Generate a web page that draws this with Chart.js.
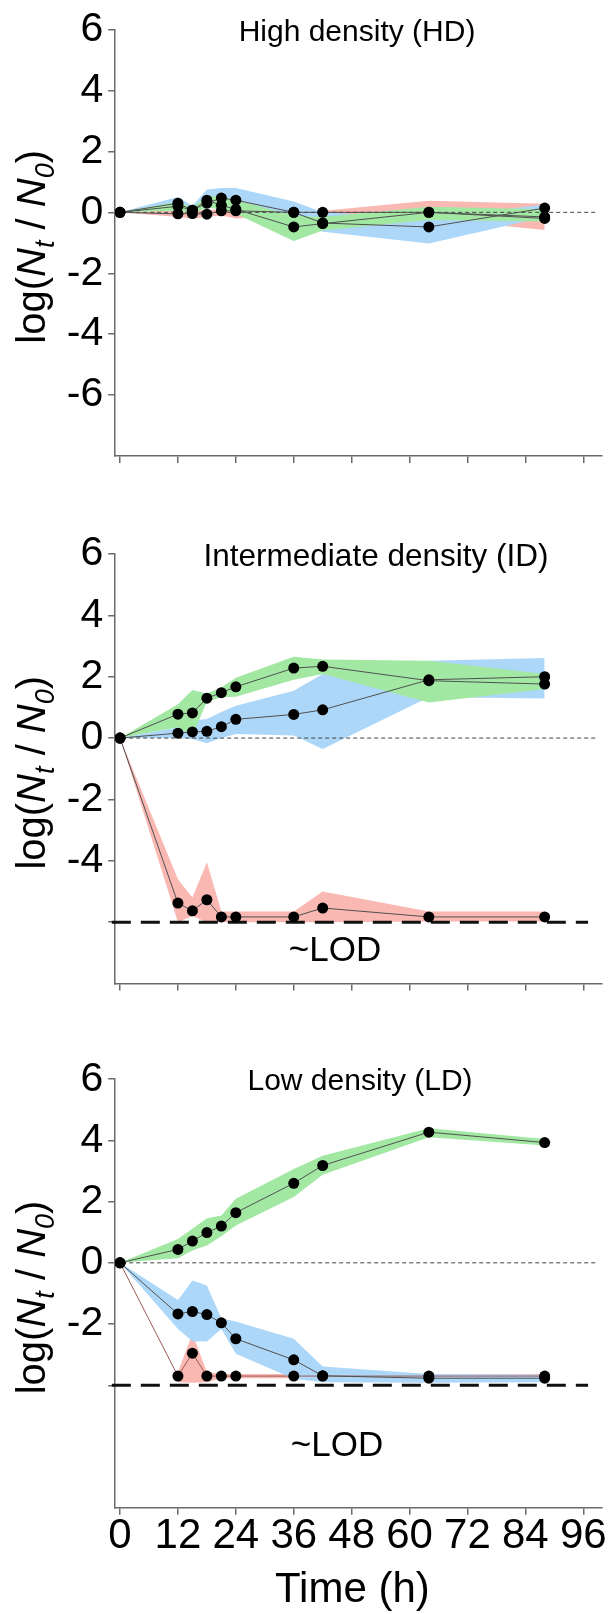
<!DOCTYPE html>
<html>
<head>
<meta charset="utf-8">
<script src="https://cdn.jsdelivr.net/npm/chart.js@4.4.1/dist/chart.umd.min.js"></script>
<style>
  html, body { margin: 0; padding: 0; background: #fff; }
  body { width: 608px; height: 1614px; position: relative; overflow: hidden; }
  canvas { position: absolute; left: 0; }
</style>
</head>
<body>
<canvas id="hd" width="608" height="500" style="top:0"></canvas>
<canvas id="id" width="608" height="520" style="top:500px"></canvas>
<canvas id="ld" width="608" height="594" style="top:1020px"></canvas>
<script>
// sampling times (h)
const hours = [0, 12, 15, 18, 21, 24, 36, 42, 64, 88];
const xTicks = [0, 12, 24, 36, 48, 60, 72, 84, 96];
const xTickLabels = ['0', '12', '24', '36', '48', '60', '72', '84', '96'];
const panelTitles = ['High density (HD)', 'Intermediate density (ID)', 'Low density (LD)'];
const lodLabel = '~LOD';
const xTitle = 'Time (h)';

// high density
const hdRedMean   = [0, -0.05, -0.04, -0.06, 0.05, 0.05, 0.0, 0.0, 0.0, -0.2];
const hdRedLow    = [0, -0.15, -0.2, -0.15, -0.1, -0.2, -0.1, -0.15, -0.2, -0.58];
const hdRedHigh   = [0, 0.07, 0.05, 0.08, 0.1, 0.1, 0.1, 0.05, 0.38, 0.28];
const hdBlueMean  = [0, 0.3, 0.07, 0.3, 0.47, 0.4, 0.0, -0.35, -0.48, 0.14];
const hdBlueLow   = [0, 0.08, 0.0, 0.15, 0.2, 0.1, -0.3, -0.64, -1.02, -0.15];
const hdBlueHigh  = [0, 0.5, 0.22, 0.75, 0.8, 0.8, 0.36, 0.0, -0.2, 0.26];
const hdGreenMean = [0, 0.2, 0.07, 0.4, 0.23, 0.1, -0.48, -0.37, 0.0, -0.15];
const hdGreenLow  = [0, 0.05, -0.05, 0.15, 0.1, -0.05, -0.94, -0.6, -0.25, -0.3];
const hdGreenHigh = [0, 0.35, 0.15, 0.55, 0.5, 0.4, -0.1, -0.15, 0.18, 0.1];

// intermediate density
const idRedMean   = [0, -5.38, -5.63, -5.27, -5.83, -5.83, -5.83, -5.54, -5.83, -5.83];
const idRedLow    = [0, -6, -5.8, -6, -6, -6, -6, -6, -5.98, -5.98];
const idRedHigh   = [0, -4.6, -5.2, -4.05, -5.65, -5.65, -5.65, -5.0, -5.65, -5.65];
const idBlueMean  = [0, 0.16, 0.2, 0.22, 0.37, 0.61, 0.77, 0.92, 1.9, 2.0];
const idBlueLow   = [0, 0.0, -0.03, -0.17, 0.0, 0.13, 0.08, -0.36, 1.33, 1.29];
const idBlueHigh  = [0, 0.35, 0.57, 0.62, 0.85, 1.05, 1.54, 2.09, 2.52, 2.61];
const idGreenMean = [0, 0.78, 0.82, 1.3, 1.48, 1.67, 2.28, 2.34, 1.87, 1.76];
const idGreenLow  = [0, 0.35, 0.08, 1.18, 1.33, 1.35, 1.9, 2.09, 1.16, 1.6];
const idGreenHigh = [0, 1.1, 1.57, 1.45, 1.65, 1.97, 2.65, 2.56, 2.52, 2.09];

// low density
const ldRedMean   = [0, -3.7, -2.95, -3.7, -3.7, -3.7, -3.7, -3.7, -3.7, -3.7];
const ldRedLow    = [null, -3.9, -3.92, -3.9, -3.77, -3.77, -3.77, -3.77, -3.77, -3.77];
const ldRedHigh   = [null, -3.57, -2.32, -3.57, -3.63, -3.63, -3.63, -3.63, -3.63, -3.63];
const ldBlueMean  = [0, -1.67, -1.59, -1.69, -1.96, -2.48, -3.17, -3.69, -3.77, -3.77];
const ldBlueLow   = [0, -2.16, -2.56, -2.57, -2.16, -2.97, -3.79, -3.9, -3.92, -3.9];
const ldBlueHigh  = [0, -1.21, -0.58, -0.74, -1.81, -1.92, -2.48, -3.39, -3.63, -3.66];
const ldGreenMean = [0, 0.44, 0.71, 0.99, 1.2, 1.64, 2.6, 3.18, 4.27, 3.93];
const ldGreenLow  = [0, 0.15, 0.4, 0.57, 0.87, 1.22, 2.15, 2.88, 4.1, 3.83];
const ldGreenHigh = [0, 0.78, 1.11, 1.46, 1.55, 2.09, 3.07, 3.5, 4.4, 4.05];

// y ticks per panel
const hdYTicks = [6, 4, 2, 0, -2, -4, -6];
const hdYLabels = ['6', '4', '2', '0', '-2', '-4', '-6'];
const idYTicks = [6, 4, 2, 0, -2, -4, -6];
const idYLabels = ['6', '4', '2', '0', '-2', '-4', ''];
const ldYTicks = [6, 4, 2, 0, -2, -4];
const ldYLabels = ['6', '4', '2', '0', '-2', ''];

// reference lines
const zeroLineX = [-1, 99];
const lodLineX = [-1.7, 97];
const idLod = -6;
const ldLod = -4;

const RED = '#f9b8b2', BLUE = '#add7f8', GREEN = '#a2e8a3';
const FONT = '"Liberation Sans", Arial, Helvetica, sans-serif';
Chart.defaults.font.family = FONT;
Chart.defaults.color = '#000';

function pts(ys) {
  return hours.map((h, i) => ({x: h, y: ys[i]}));
}

function band(low, high, color, order) {
  return [
    {data: pts(high), fill: '+1', backgroundColor: color, borderColor: 'rgba(0,0,0,0)', borderWidth: 0, pointRadius: 0, order: order},
    {data: pts(low), fill: false, borderColor: 'rgba(0,0,0,0)', borderWidth: 0, pointRadius: 0, order: order}
  ];
}

function mean(ys, lineColor) {
  return {data: pts(ys), fill: false, borderColor: lineColor, borderWidth: 1, pointRadius: 5.5,
    pointBackgroundColor: '#000', pointBorderColor: '#000', pointBorderWidth: 0, order: 0};
}

function refLine(xs, y, width, dash, color) {
  return {data: xs.map(x => ({x: x, y: y})), fill: false, borderColor: color, borderWidth: width,
    borderDash: dash, pointRadius: 0, order: 1, clip: false};
}

// panel titles, ~LOD text and the rich y axis label
const panelText = {
  id: 'panelText',
  afterDraw(chart, args, opts) {
    const ctx = chart.ctx, area = chart.chartArea, ys = chart.scales.y;
    ctx.save();
    ctx.fillStyle = '#000';
    ctx.textAlign = 'center';
    ctx.textBaseline = 'middle';
    ctx.font = opts.titleSize + 'px ' + FONT;
    ctx.fillText(opts.title, opts.titleX, ys.getPixelForValue(6) + 3);
    if (opts.lodY !== undefined) {
      ctx.font = '35px ' + FONT;
      ctx.fillText(lodLabel, opts.lodX, ys.getPixelForValue(opts.lodY));
    }
    if (opts.xTitle) {
      ctx.font = '42px ' + FONT;
      ctx.textBaseline = 'alphabetic';
      ctx.fillText(opts.xTitle, (area.left + area.right) / 2 - 6, area.bottom + 94);
    }
    // log(Nt / N0), rotated
    const size = 40;
    const parts = [['log(', 0, 0], ['N', 1, 0], ['t', 1, 1], [' / ', 0, 0], ['N', 1, 0], ['0', 1, 1], [')', 0, 0]];
    const fontOf = p => (p[1] ? 'italic ' : '') + (p[2] ? Math.round(size * 0.68) : size) + 'px ' + FONT;
    let total = 0;
    parts.forEach(p => { ctx.font = fontOf(p); total += ctx.measureText(p[0]).width; });
    ctx.translate(45, (area.top + area.bottom) / 2 + 4);
    ctx.rotate(-Math.PI / 2);
    ctx.textAlign = 'left';
    ctx.textBaseline = 'alphabetic';
    let x = -total / 2;
    parts.forEach(p => {
      ctx.font = fontOf(p);
      ctx.fillText(p[0], x, p[2] ? size * 0.22 : 0);
      x += ctx.measureText(p[0]).width;
    });
    ctx.restore();
  }
};

function makePanel(id, cfg) {
  const canvas = document.getElementById(id);
  const H = canvas.height;
  const datasets = [].concat(
    [mean(cfg.green, '#505050'), mean(cfg.blue, '#505050'), mean(cfg.red, cfg.redLine)],
    [refLine(zeroLineX, 0, 1, [4, 3], '#444')],
    cfg.lod !== undefined ? [refLine(lodLineX, cfg.lod, 3, [19, 10], '#111')] : [],
    band(cfg.greenLow, cfg.greenHigh, GREEN, 2),
    band(cfg.blueLow, cfg.blueHigh, BLUE, 3),
    band(cfg.redLow, cfg.redHigh, RED, 4)
  );
  return new Chart(canvas, {
    type: 'line',
    data: {datasets: datasets},
    plugins: [panelText],
    options: {
      responsive: false,
      animation: false,
      events: [],
      layout: {padding: {left: 0, right: 6.4, top: cfg.top, bottom: 0}},
      elements: {line: {tension: 0}},
      scales: {
        x: {
          type: 'linear', min: -1, max: 99.8,
          afterBuildTicks: s => { s.ticks = xTicks.map(v => ({value: v})); },
          afterFit: s => { s.height = H - cfg.bottom; },
          border: {display: true, color: '#6a6a6a', width: 1.5},
          grid: {drawOnChartArea: false, drawTicks: true, tickLength: 7, color: '#6a6a6a', lineWidth: 1.5},
          ticks: {display: cfg.xLabels, autoSkip: false, maxRotation: 0, minRotation: 0, padding: 1,
            font: {size: 42, lineHeight: 1}, callback: (v, i) => xTickLabels[i]}
        },
        y: {
          type: 'linear', min: -8, max: 6,
          afterBuildTicks: s => { s.ticks = cfg.yTicks.map(v => ({value: v})); },
          afterFit: s => { s.width = 115.2; },
          border: {display: true, color: '#6a6a6a', width: 1.5},
          grid: {drawOnChartArea: false, drawTicks: true, tickLength: 7, color: '#6a6a6a', lineWidth: 1.5},
          ticks: {autoSkip: false, padding: 5, font: {size: 41}, callback: (v, i) => cfg.yLabels[i]}
        }
      },
      plugins: {
        legend: {display: false},
        tooltip: {enabled: false},
        panelText: cfg.text
      }
    }
  });
}

makePanel('hd', {
  top: 26.7, bottom: 456, xLabels: false, yTicks: hdYTicks, yLabels: hdYLabels, redLine: '#505050',
  red: hdRedMean, redLow: hdRedLow, redHigh: hdRedHigh,
  blue: hdBlueMean, blueLow: hdBlueLow, blueHigh: hdBlueHigh,
  green: hdGreenMean, greenLow: hdGreenLow, greenHigh: hdGreenHigh,
  text: {title: panelTitles[0], titleX: 357, titleSize: 30}
});

makePanel('id', {
  top: 54, bottom: 483.5, xLabels: false, yTicks: idYTicks, yLabels: idYLabels, redLine: '#505050', lod: idLod,
  red: idRedMean, redLow: idRedLow, redHigh: idRedHigh,
  blue: idBlueMean, blueLow: idBlueLow, blueHigh: idBlueHigh,
  green: idGreenMean, greenLow: idGreenLow, greenHigh: idGreenHigh,
  text: {title: panelTitles[1], titleX: 376, titleSize: 31.5, lodX: 335, lodY: -6.94}
});

makePanel('ld', {
  top: 59.2, bottom: 487.7, xLabels: true, yTicks: ldYTicks, yLabels: ldYLabels, redLine: '#9d5a55', lod: ldLod,
  red: ldRedMean, redLow: ldRedLow, redHigh: ldRedHigh,
  blue: ldBlueMean, blueLow: ldBlueLow, blueHigh: ldBlueHigh,
  green: ldGreenMean, greenLow: ldGreenLow, greenHigh: ldGreenHigh,
  text: {title: panelTitles[2], titleX: 360, titleSize: 30, lodX: 337, lodY: -6.0, xTitle: xTitle}
});
</script>
</body>
</html>
